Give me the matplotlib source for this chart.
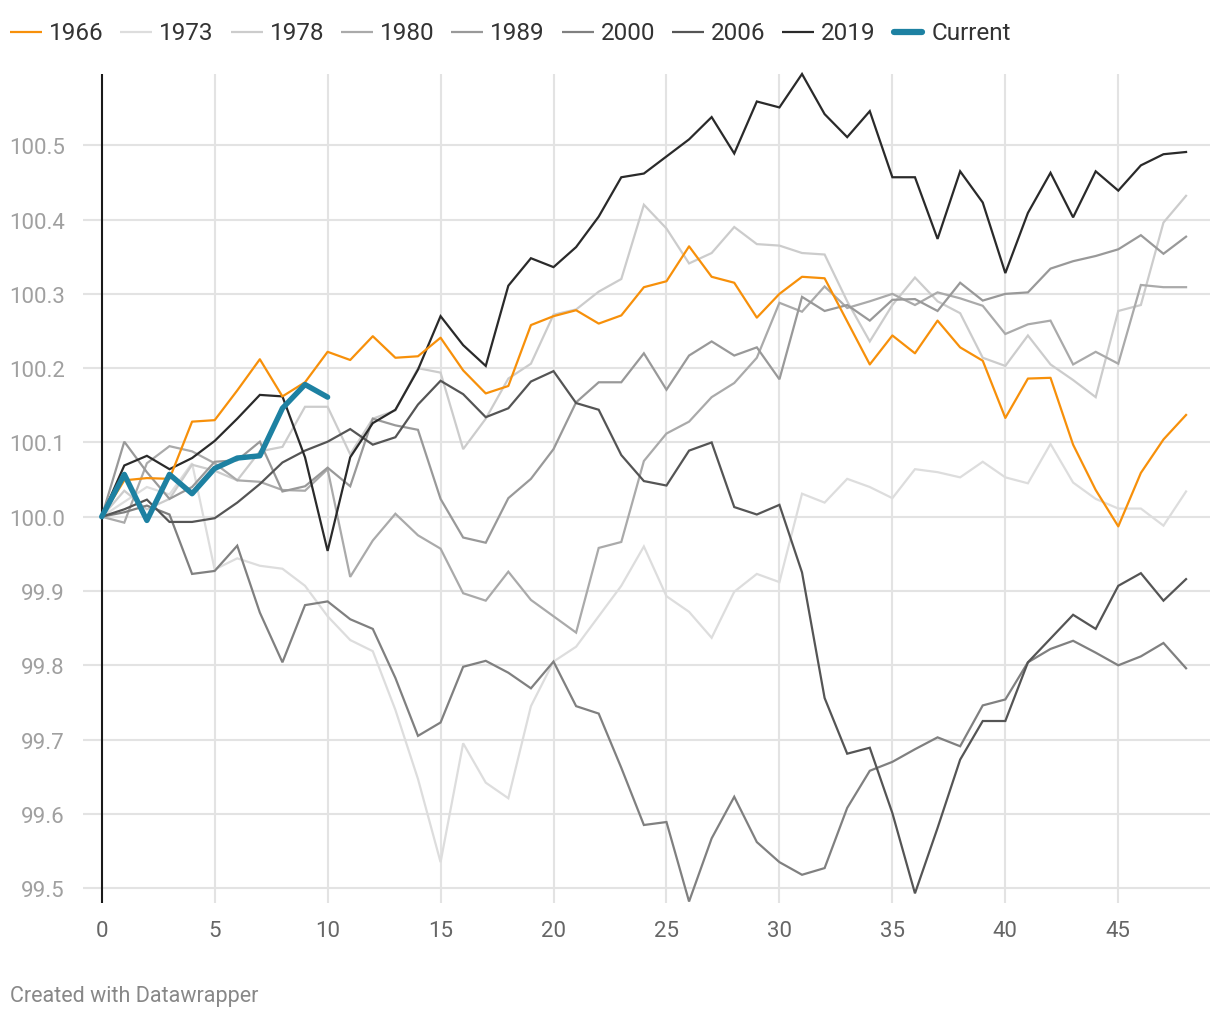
import matplotlib
matplotlib.use("Agg")
import matplotlib.pyplot as plt
from matplotlib.lines import Line2D

plt.rcParams['font.family'] = ['Roboto', 'DejaVu Sans']

# ---- data ----
steps = list(range(49))

s1966 = [100.0, 100.049, 100.052, 100.051, 100.128, 100.13, 100.17, 100.212, 100.162, 100.181,
         100.222, 100.211, 100.243, 100.214, 100.216, 100.241, 100.197, 100.166, 100.176, 100.258,
         100.27, 100.278, 100.26, 100.271, 100.309, 100.317, 100.364, 100.323, 100.315, 100.268,
         100.3, 100.323, 100.321, 100.263, 100.205, 100.244, 100.22, 100.264, 100.228, 100.21,
         100.133, 100.186, 100.187, 100.097, 100.036, 99.987, 100.059, 100.104, 100.137]

s1973 = [100.0, 100.02, 100.04, 100.03, 100.072, 99.929, 99.944, 99.934, 99.93, 99.907,
         99.866, 99.834, 99.819, 99.74, 99.647, 99.535, 99.695, 99.642, 99.621, 99.745,
         99.805, 99.825, 99.866, 99.907, 99.96, 99.893, 99.872, 99.837, 99.899, 99.923,
         99.912, 100.031, 100.019, 100.051, 100.04, 100.025, 100.064, 100.06, 100.053, 100.074,
         100.053, 100.045, 100.098, 100.046, 100.024, 100.011, 100.011, 99.988, 100.034]

s1978 = [100.0, 100.035, 100.01, 100.024, 100.07, 100.062, 100.049, 100.088, 100.094, 100.148,
         100.148, 100.084, 100.132, 100.143, 100.2, 100.194, 100.091, 100.132, 100.186, 100.206,
         100.272, 100.279, 100.303, 100.32, 100.42, 100.388, 100.341, 100.355, 100.39, 100.367,
         100.365, 100.355, 100.353, 100.29, 100.236, 100.285, 100.322, 100.29, 100.274, 100.214,
         100.203, 100.244, 100.205, 100.184, 100.161, 100.277, 100.285, 100.396, 100.432]

s1980 = [100.0, 99.992, 100.072, 100.095, 100.088, 100.072, 100.049, 100.047, 100.036, 100.035,
         100.064, 99.919, 99.968, 100.004, 99.975, 99.957, 99.897, 99.887, 99.926, 99.888,
         99.866, 99.844, 99.958, 99.966, 100.075, 100.112, 100.128, 100.161, 100.18, 100.214,
         100.288, 100.276, 100.31, 100.281, 100.29, 100.3, 100.285, 100.302, 100.294, 100.284,
         100.246, 100.259, 100.264, 100.205, 100.222, 100.206, 100.312, 100.309, 100.309]

s1989 = [100.0, 100.101, 100.06, 100.024, 100.04, 100.074, 100.076, 100.101, 100.034, 100.041,
         100.066, 100.041, 100.132, 100.123, 100.117, 100.024, 99.972, 99.965, 100.025, 100.051,
         100.091, 100.154, 100.181, 100.181, 100.22, 100.171, 100.217, 100.236, 100.217, 100.228,
         100.185, 100.296, 100.277, 100.285, 100.264, 100.292, 100.293, 100.277, 100.315, 100.291,
         100.3, 100.302, 100.334, 100.344, 100.351, 100.36, 100.379, 100.354, 100.377]

s2000 = [100.0, 100.006, 100.015, 100.003, 99.923, 99.927, 99.961, 99.871, 99.804, 99.881,
         99.886, 99.862, 99.849, 99.783, 99.705, 99.723, 99.798, 99.806, 99.79, 99.769,
         99.805, 99.745, 99.735, 99.662, 99.585, 99.589, 99.482, 99.567, 99.623, 99.562,
         99.535, 99.518, 99.527, 99.608, 99.658, 99.67, 99.687, 99.703, 99.691, 99.746,
         99.754, 99.804, 99.822, 99.833, 99.817, 99.8, 99.812, 99.83, 99.796]

s2006 = [100.0, 100.01, 100.023, 99.993, 99.993, 99.998, 100.019, 100.044, 100.073, 100.089,
         100.101, 100.118, 100.097, 100.107, 100.151, 100.183, 100.165, 100.134, 100.146, 100.182,
         100.196, 100.153, 100.144, 100.083, 100.048, 100.042, 100.089, 100.1, 100.013, 100.003,
         100.016, 99.925, 99.756, 99.681, 99.689, 99.601, 99.493, 99.581, 99.673, 99.725,
         99.725, 99.804, 99.836, 99.868, 99.849, 99.907, 99.924, 99.887, 99.916]

s2019 = [100.0, 100.069, 100.082, 100.064, 100.079, 100.102, 100.132, 100.164, 100.162, 100.08,
         99.954, 100.08, 100.126, 100.144, 100.198, 100.27, 100.231, 100.203, 100.311, 100.348,
         100.336, 100.363, 100.404, 100.457, 100.462, 100.485, 100.508, 100.538, 100.489, 100.559,
         100.551, 100.596, 100.542, 100.511, 100.546, 100.457, 100.457, 100.374, 100.465, 100.423,
         100.328, 100.409, 100.463, 100.403, 100.465, 100.439, 100.473, 100.488, 100.491]

current = [100.0, 100.057, 99.995, 100.057, 100.031, 100.065, 100.079, 100.082, 100.146, 100.178,
           100.161]

labels = ['1966', '1973', '1978', '1980', '1989', '2000', '2006', '2019', 'Current']
colors = ['#f7900a', '#dddddd', '#cccccc', '#aaaaaa', '#999999', '#808080', '#555555', '#2a2a2a', '#1d81a2']

W, H = 1220, 1020
fig = plt.figure(figsize=(W / 100, H / 100), dpi=100)


def fx(px):
    return px / W


def fy(py):
    return 1 - py / H


ax = fig.add_axes([fx(83), fy(904), (1210 - 83) / W, (904 - 75) / H])
ax.set_xlim(-0.828, 49.06)
ax.set_ylim(99.48, 100.596)
for s in ax.spines.values():
    s.set_visible(False)

# grid
for v in [5, 10, 15, 20, 25, 30, 35, 40, 45]:
    ax.axvline(v, color='#e3e3e3', lw=1.5, zorder=0)
yt = [99.5, 99.6, 99.7, 99.8, 99.9, 100.0, 100.1, 100.2, 100.3, 100.4, 100.5]
ax.set_yticks(yt)
ax.set_yticklabels(['%.1f' % v for v in yt])
ax.grid(axis='y', color='#e3e3e3', lw=1.5, zorder=0)
ax.set_axisbelow(True)
ax.set_xticks([0, 5, 10, 15, 20, 25, 30, 35, 40, 45])
ax.tick_params(axis='y', length=0, pad=13, labelsize=16, labelcolor='#a0a0a0')
ax.tick_params(axis='x', length=0, pad=12, labelsize=16, labelcolor='#666666')
ax.axvline(0, color='#1a1a1a', lw=1.5, zorder=1)

# series, lightest first
series = [s1973, s1978, s1980, s1989, s2000, s2006, s2019]
for vals, c, z in zip(series, colors[1:8], range(2, 9)):
    ax.plot(steps, vals, color=c, lw=1.6, zorder=z, clip_on=False, solid_joinstyle='miter')
ax.plot(steps, s1966, color=colors[0], lw=1.6, zorder=10, clip_on=False)
ax.plot(steps[:len(current)], current, color=colors[8], lw=3.9, zorder=11,
        solid_capstyle='round', solid_joinstyle='round', clip_on=False)

# legend row
for i, (lab, c) in enumerate(zip(labels, colors)):
    x0 = 10 + 110.3 * i
    thick = lab == 'Current'
    fig.add_artist(Line2D([fx(x0 + (2 if thick else 0)), fx(x0 + (30 if thick else 32))],
                          [fy(33), fy(33)], color=c, lw=4.5 if thick else 1.6,
                          solid_capstyle='round' if thick else 'butt'))
    fig.text(fx(x0 + 39), fy(33), lab, fontsize=17.5, color='#333333', va='center', ha='left')

fig.text(fx(10), fy(997), 'Created with Datawrapper', fontsize=15.5, color='#888888',
         va='center', ha='left')

fig.savefig('out.png', dpi=100, facecolor='white')
